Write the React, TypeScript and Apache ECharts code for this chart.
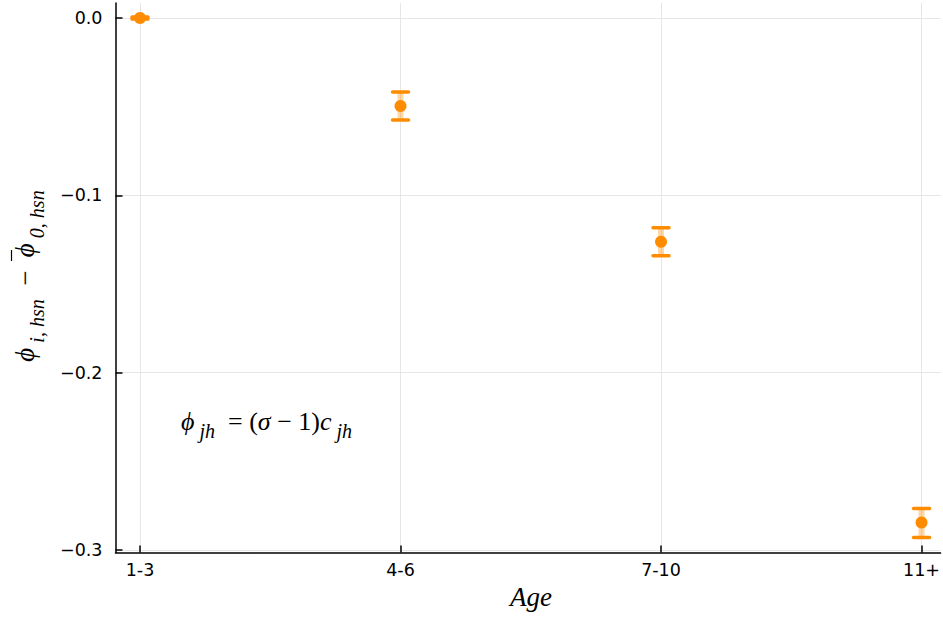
import React, { useEffect, useRef } from "react";
import * as echarts from "echarts";

const categories = ["1-3", "4-6", "7-10", "11+"];
const xPositions = [1, 2, 3, 4];
const means = [0.0, -0.0496, -0.1262, -0.2845];
const lower = [-0.0006, -0.0575, -0.1341, -0.293];
const upper = [0.0006, -0.0417, -0.1183, -0.2766];
const yTicks = [-0.3, -0.2, -0.1, 0.0];

const ORANGE = "#ff8c00";
const SERIF = "Liberation Serif";
const SANS = "DejaVu Sans";

export default function App() {
  const ref = useRef<HTMLDivElement>(null);
  useEffect(() => {
    if (!ref.current) return;
    const chart = echarts.init(ref.current, null, { renderer: "svg" });
    const errData = xPositions.map((x, i) => [x, lower[i], upper[i]]);
    const ptData = xPositions.map((x, i) => [x, means[i]]);
    const mainStyle = (size: number, lh: number, italic: boolean) => ({
      fontFamily: SERIF,
      fontStyle: italic ? "italic" : "normal",
      fontSize: size,
      lineHeight: lh,
      verticalAlign: "middle",
      fill: "#000",
    });
    const subStyle = (size: number, lh: number) => ({
      fontFamily: SERIF,
      fontStyle: "italic",
      fontSize: size,
      lineHeight: lh,
      verticalAlign: "bottom",
      fill: "#000",
    });
    chart.setOption({
      animation: false,
      backgroundColor: "#ffffff",
      grid: { left: 115.5, right: 0, top: 3, bottom: 64.5, containLabel: false },
      xAxis: {
        type: "value",
        min: 0.906,
        max: 4.073,
        axisLine: { show: true, onZero: false, lineStyle: { color: "#000", width: 1.5 } },
        axisTick: { show: true, inside: true, length: 7, customValues: xPositions, lineStyle: { color: "#000", width: 1.5 } },
        axisLabel: {
          customValues: xPositions,
          formatter: (v: number) => categories[Math.round(v) - 1] ?? "",
          fontFamily: SANS,
          fontSize: 17.5,
          color: "#000",
          margin: 8,
        },
        splitLine: { show: true, lineStyle: { color: "#e6e6e6", width: 1 } },
      },
      yAxis: {
        type: "value",
        min: -0.3014,
        max: 0.00846,
        axisLine: { show: true, onZero: false, lineStyle: { color: "#000", width: 1.5 } },
        axisTick: { show: true, inside: true, length: 7, customValues: yTicks, lineStyle: { color: "#000", width: 1.5 } },
        axisLabel: {
          customValues: yTicks,
          formatter: (v: number) => (Math.abs(v) < 1e-9 ? "0.0" : v.toFixed(1).replace("-", "\u2212")),
          fontFamily: SANS,
          fontSize: 17.5,
          color: "#000",
          margin: 13,
        },
        splitLine: { show: true, lineStyle: { color: "#e6e6e6", width: 1 } },
      },
      series: [
        {
          type: "custom",
          data: errData,
          z: 2,
          renderItem: (params: any, api: any) => {
            const x = api.value(0);
            const lo = api.coord([x, api.value(1)]);
            const hi = api.coord([x, api.value(2)]);
            const cw = 8;
            return {
              type: "group",
              children: [
                {
                  type: "line",
                  shape: { x1: lo[0], y1: lo[1], x2: hi[0], y2: hi[1] },
                  style: { stroke: "rgba(255,140,0,0.35)", lineWidth: 6 },
                },
                {
                  type: "line",
                  shape: { x1: lo[0] - cw, y1: lo[1], x2: lo[0] + cw, y2: lo[1] },
                  style: { stroke: ORANGE, lineWidth: 3.5, lineCap: "round" },
                },
                {
                  type: "line",
                  shape: { x1: hi[0] - cw, y1: hi[1], x2: hi[0] + cw, y2: hi[1] },
                  style: { stroke: ORANGE, lineWidth: 3.5, lineCap: "round" },
                },
              ],
            };
          },
        },
        {
          type: "scatter",
          data: ptData,
          z: 3,
          symbol: "circle",
          symbolSize: 12,
          itemStyle: { color: ORANGE, opacity: 1 },
        },
      ],
      graphic: [
        {
          type: "text",
          x: 25,
          y: 276,
          rotation: Math.PI / 2,
          style: {
            text: "{m|\u03d5}{s| i, hsn}{o|  \u2212  }{m|\u03d5}{s| 0, hsn}",
            align: "center",
            verticalAlign: "middle",
            rich: {
              m: mainStyle(27, 44, true),
              o: mainStyle(27, 44, false),
              s: subStyle(20, 18),
            },
          },
        },
        {
          type: "line",
          shape: { x1: 11.5, y1: 250, x2: 11.5, y2: 261 },
          style: { stroke: "#000", lineWidth: 1.2 },
        },
        {
          type: "text",
          x: 181,
          y: 421,
          style: {
            text: "{m|\u03d5}{s| jh}{o|  = (}{m|\u03c3}{o| \u2212 1)}{m|c}{s| jh}",
            align: "left",
            verticalAlign: "middle",
            rich: {
              m: mainStyle(26, 40, true),
              o: mainStyle(26, 40, false),
              s: subStyle(20, 18),
            },
          },
        },
        {
          type: "text",
          x: 531,
          y: 597,
          style: {
            text: "Age",
            align: "center",
            verticalAlign: "middle",
            fontFamily: SERIF,
            fontStyle: "italic",
            fontSize: 27,
            fill: "#000",
          },
        },
      ],
    });
    return () => chart.dispose();
  }, []);
  return <div ref={ref} style={{ width: 943, height: 617, position: "absolute", left: 0, top: 0 }} />;
}
